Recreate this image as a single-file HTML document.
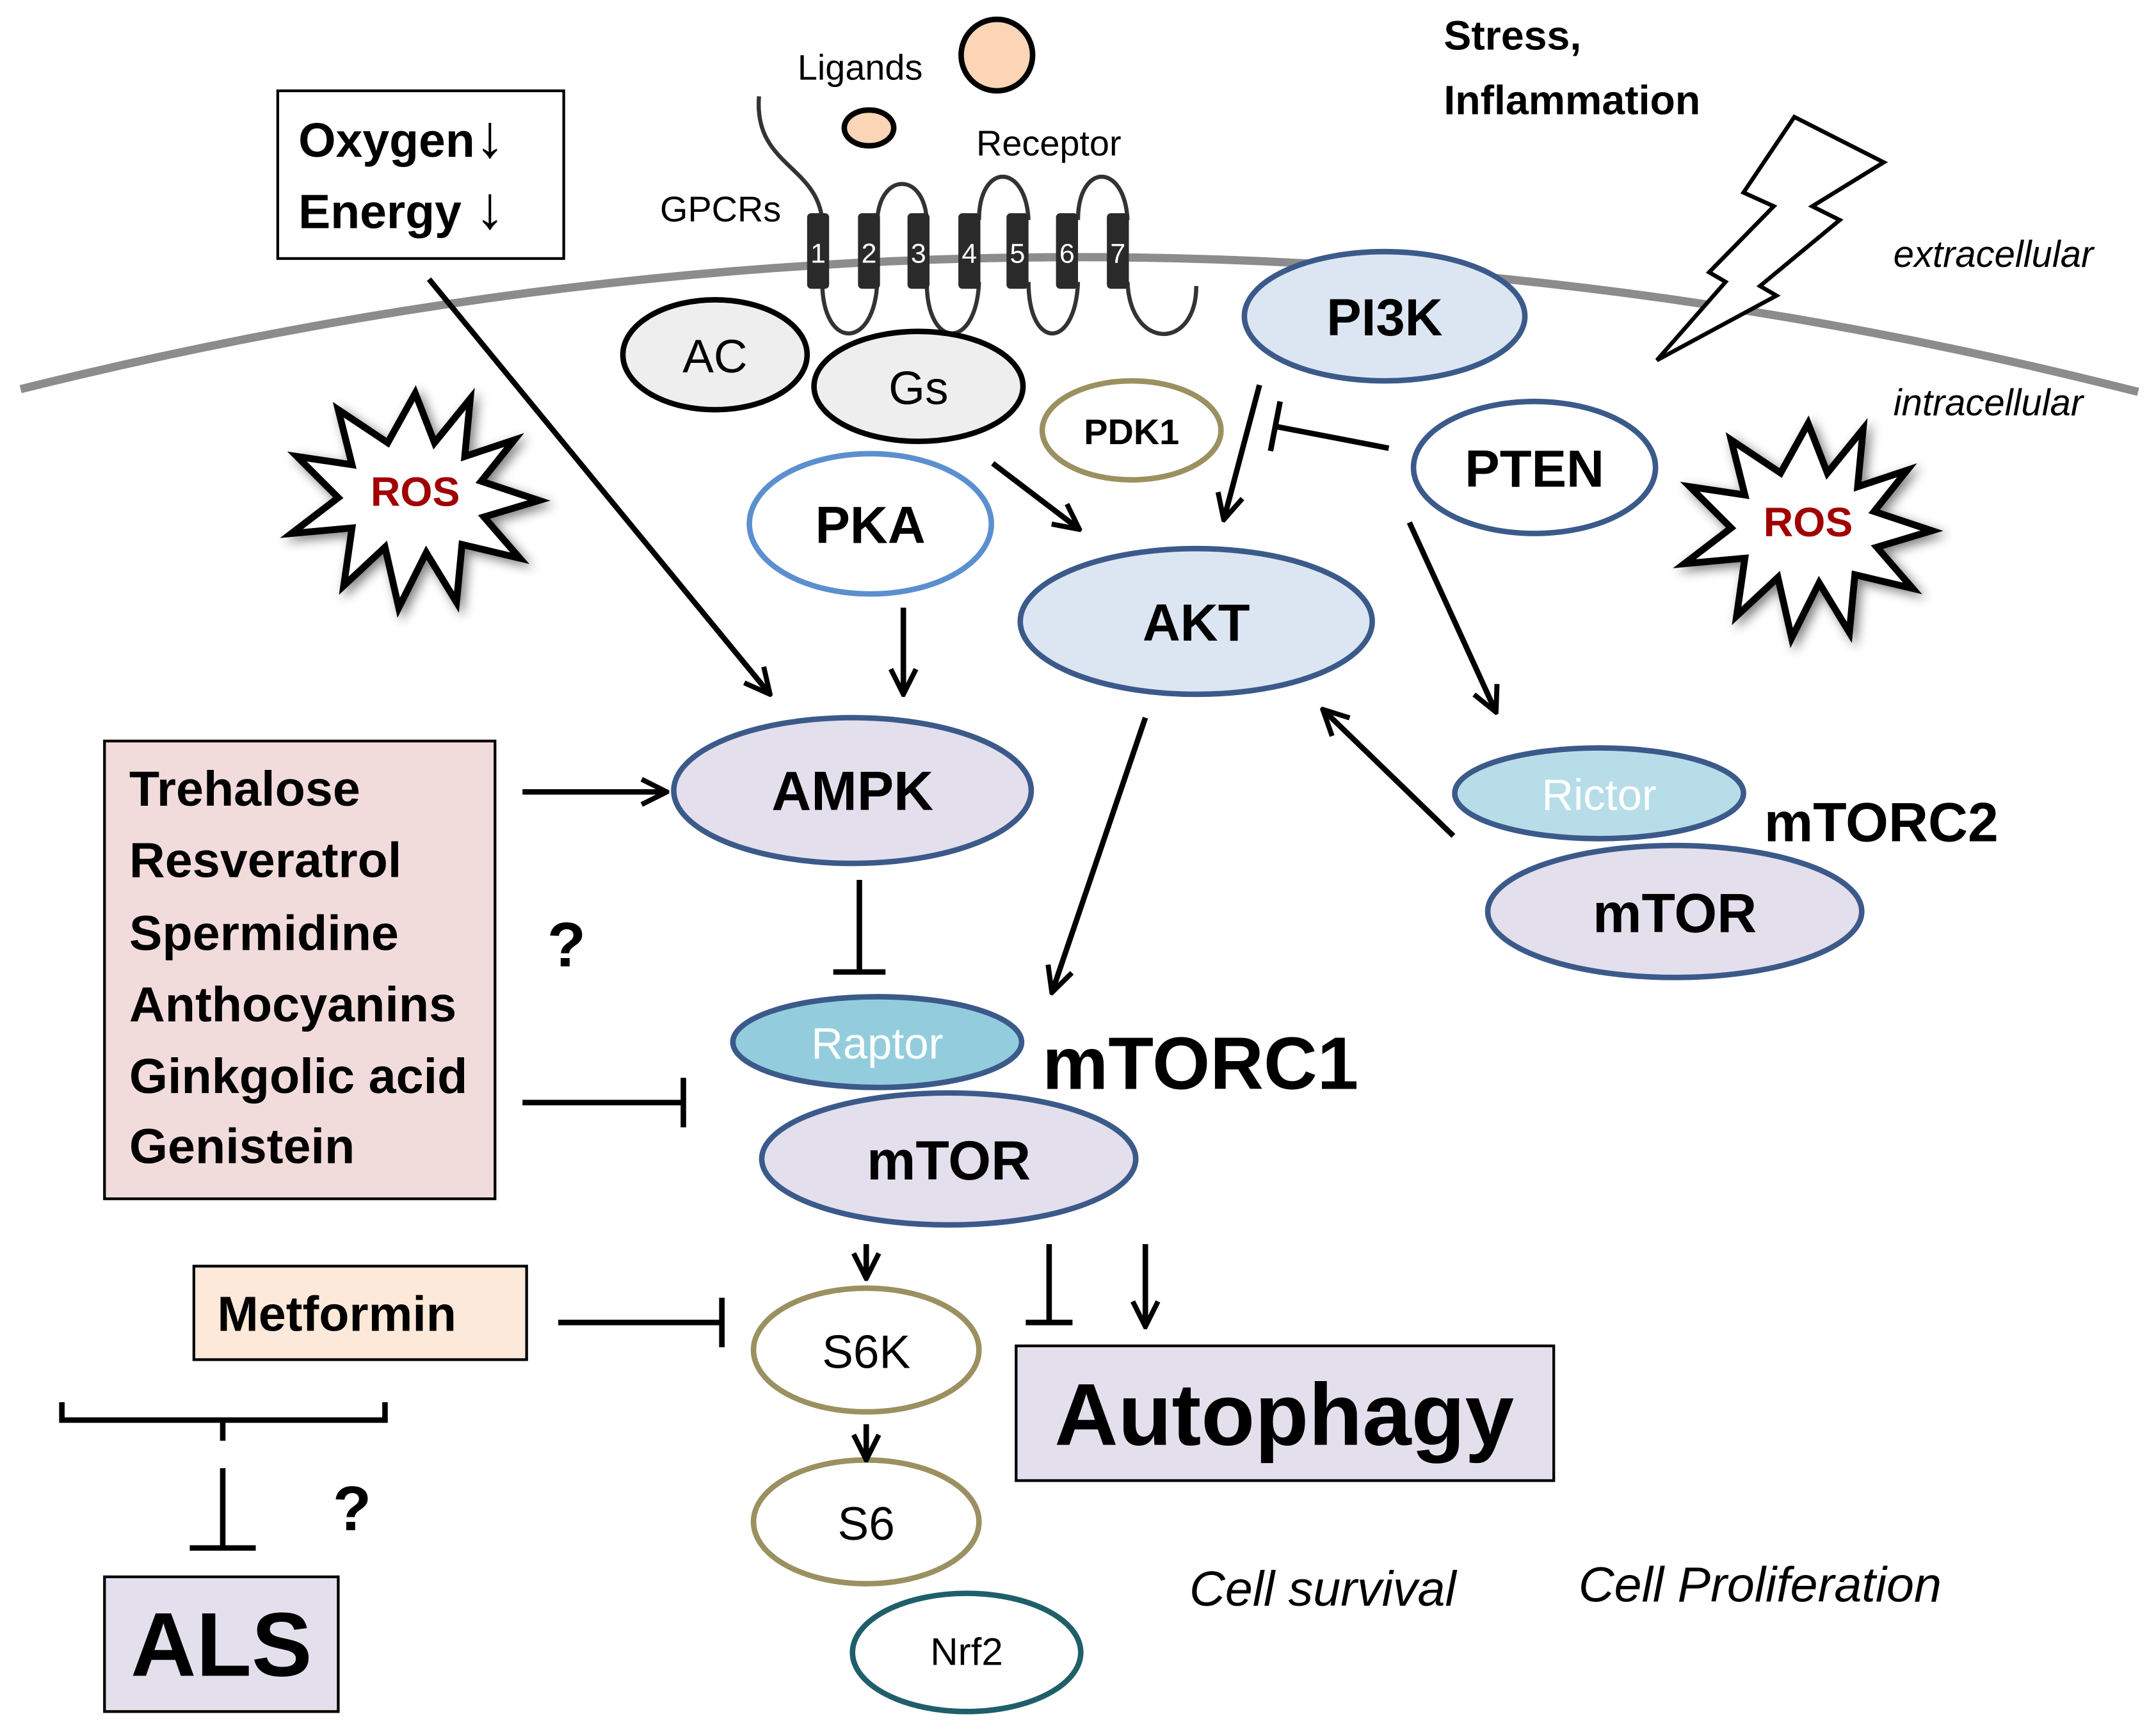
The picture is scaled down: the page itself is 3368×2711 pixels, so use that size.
<!DOCTYPE html>
<html><head><meta charset="utf-8"><style>
html,body{margin:0;padding:0;background:#fff}
svg{display:block}
text{font-family:"Liberation Sans","DejaVu Sans",sans-serif}
</style></head><body>
<svg width="3368" height="2711" viewBox="0 0 1568 1262" xmlns="http://www.w3.org/2000/svg">
<defs>
<marker id="a" viewBox="0 0 12 12" refX="11" refY="6" markerWidth="22" markerHeight="22" markerUnits="userSpaceOnUse" orient="auto">
<path d="M1,1 L11,6 L1,11" fill="none" stroke="#000" stroke-width="2"/>
</marker>
<filter id="sh" x="-30%" y="-30%" width="160%" height="160%"><feGaussianBlur in="SourceAlpha" stdDeviation="4"/><feOffset dx="3" dy="3"/><feComponentTransfer><feFuncA type="linear" slope="0.5"/></feComponentTransfer><feMerge><feMergeNode/><feMergeNode in="SourceGraphic"/></feMerge></filter>
</defs>
<rect width="1568" height="1262" fill="#fff"/>
<path d="M15,283 Q790,90 1555,285" fill="none" stroke="#8c8c8c" stroke-width="6"/>
<polygon points="1305,85 1370,118 1318,150 1338,160 1280,208 1292,215 1205,262 1255,205 1243,198 1290,150 1268,140" fill="#fff" stroke="#000" stroke-width="3"/>
<text x="1050" y="36" font-size="30" font-weight="bold">Stress,</text>
<text x="1050" y="83" font-size="30" font-weight="bold">Inflammation</text>
<text x="1377" y="194" font-size="27" font-style="italic">extracellular</text>
<text x="1377" y="302" font-size="27" font-style="italic">intracellular</text>
<rect x="202" y="66" width="208" height="122" fill="#fff" stroke="#000" stroke-width="2"/>
<text x="217" y="114" font-size="35" font-weight="bold">Oxygen<tspan font-size="44">↓</tspan></text>
<text x="217" y="166" font-size="35" font-weight="bold">Energy <tspan font-size="44">↓</tspan></text>
<text x="580" y="58" font-size="26">Ligands</text>
<circle cx="725" cy="40" r="26" fill="#fbd5b5" stroke="#000" stroke-width="4"/>
<ellipse cx="632" cy="93" rx="18" ry="13" fill="#fbd5b5" stroke="#000" stroke-width="4"/>
<text x="710" y="113" font-size="26">Receptor</text>
<text x="480" y="161" font-size="26">GPCRs</text>
<path d="M552,70 C548,120 594,120 598,160 M598,205 C598,255 636,255 638,205 M638,160 C640,125 672,125 674,160 M674,205 C674,255 710,255 712,205 M712,160 C712,118 746,118 748,160 M748,205 C748,255 782,255 784,205 M784,160 C784,118 818,118 820,160 M820,205 C822,255 870,255 870,208" fill="none" stroke="#333" stroke-width="3"/>
<g fill="#2a2a2a">
<rect x="587" y="155" width="16" height="55" rx="3"/><rect x="624" y="155" width="16" height="55" rx="3"/><rect x="660" y="155" width="16" height="55" rx="3"/><rect x="697" y="155" width="16" height="55" rx="3"/><rect x="732" y="155" width="16" height="55" rx="3"/><rect x="768" y="155" width="16" height="55" rx="3"/><rect x="805" y="155" width="16" height="55" rx="3"/>
</g>
<g fill="#fff" font-size="20" text-anchor="middle">
<text x="595" y="191">1</text><text x="632" y="191">2</text><text x="668" y="191">3</text><text x="705" y="191">4</text><text x="740" y="191">5</text><text x="776" y="191">6</text><text x="813" y="191">7</text>
</g>
<ellipse cx="520" cy="258" rx="67" ry="40" fill="#eee" stroke="#000" stroke-width="4"/>
<text x="520" y="271" font-size="34" text-anchor="middle">AC</text>
<ellipse cx="668" cy="281" rx="76" ry="40" fill="#eee" stroke="#000" stroke-width="4"/>
<text x="668" y="294" font-size="34" text-anchor="middle">Gs</text>
<ellipse cx="823" cy="313" rx="65" ry="36" fill="#fff" stroke="#9b9060" stroke-width="4"/>
<text x="823" y="323" font-size="26" font-weight="bold" text-anchor="middle">PDK1</text>
<ellipse cx="1007" cy="230" rx="102" ry="47" fill="#dce6f2" stroke="#3b5a8a" stroke-width="4"/>
<text x="1007" y="244" font-size="38" font-weight="bold" text-anchor="middle">PI3K</text>
<ellipse cx="1116" cy="340" rx="88" ry="48" fill="#fff" stroke="#3b5a8a" stroke-width="4"/>
<text x="1116" y="354" font-size="38" font-weight="bold" text-anchor="middle">PTEN</text>
<ellipse cx="633" cy="381" rx="88" ry="51" fill="#fff" stroke="#5b8fd0" stroke-width="4"/>
<text x="633" y="395" font-size="38" font-weight="bold" text-anchor="middle">PKA</text>
<ellipse cx="870" cy="452" rx="128" ry="53" fill="#dce6f2" stroke="#3b5a8a" stroke-width="4"/>
<text x="870" y="466" font-size="38" font-weight="bold" text-anchor="middle">AKT</text>
<ellipse cx="620" cy="575" rx="130" ry="53" fill="#e4dfec" stroke="#3b5a8a" stroke-width="4"/>
<text x="620" y="589" font-size="40" font-weight="bold" text-anchor="middle">AMPK</text>
<ellipse cx="1218" cy="663" rx="136" ry="48" fill="#e4dfec" stroke="#3b5a8a" stroke-width="4"/>
<text x="1218" y="678" font-size="40" font-weight="bold" text-anchor="middle">mTOR</text>
<ellipse cx="1163" cy="577" rx="105" ry="33" fill="#b7dde8" stroke="#3b5a8a" stroke-width="4"/>
<text x="1163" y="589" font-size="32" fill="#fff" text-anchor="middle">Rictor</text>
<text x="1283" y="612" font-size="40" font-weight="bold">mTORC2</text>
<ellipse cx="690" cy="843" rx="136" ry="48" fill="#e4dfec" stroke="#3b5a8a" stroke-width="4"/>
<text x="690" y="858" font-size="40" font-weight="bold" text-anchor="middle">mTOR</text>
<ellipse cx="638" cy="758" rx="105" ry="33" fill="#93cddd" stroke="#3b5a8a" stroke-width="4"/>
<text x="638" y="770" font-size="32" fill="#fff" text-anchor="middle">Raptor</text>
<text x="758" y="792" font-size="54" font-weight="bold">mTORC1</text>
<ellipse cx="630" cy="982" rx="82" ry="45" fill="#fff" stroke="#9b9060" stroke-width="4"/>
<text x="630" y="995" font-size="34" text-anchor="middle">S6K</text>
<ellipse cx="630" cy="1107" rx="82" ry="45" fill="#fff" stroke="#9b9060" stroke-width="4"/>
<text x="630" y="1120" font-size="34" text-anchor="middle">S6</text>
<ellipse cx="703" cy="1202" rx="83" ry="43" fill="#fff" stroke="#1f5f6a" stroke-width="4"/>
<text x="703" y="1211" font-size="28" text-anchor="middle">Nrf2</text>
<rect x="739" y="979" width="391" height="98" fill="#e4dfec" stroke="#000" stroke-width="2"/>
<text x="934" y="1051" font-size="64" font-weight="bold" text-anchor="middle">Autophagy</text>
<rect x="76" y="1147" width="170" height="98" fill="#e4dfec" stroke="#000" stroke-width="2"/>
<text x="161" y="1219" font-size="66" font-weight="bold" text-anchor="middle">ALS</text>
<rect x="76" y="539" width="284" height="333" fill="#f2dcdb" stroke="#000" stroke-width="2"/>
<g font-size="36" font-weight="bold">
<text x="94" y="586">Trehalose</text><text x="94" y="638">Resveratrol</text><text x="94" y="691">Spermidine</text><text x="94" y="743">Anthocyanins</text><text x="94" y="795">Ginkgolic acid</text><text x="94" y="846">Genistein</text>
</g>
<rect x="141" y="921" width="242" height="68" fill="#fde9d9" stroke="#000" stroke-width="2"/>
<text x="158" y="968" font-size="36" font-weight="bold">Metformin</text>
<text x="412" y="703" font-size="46" font-weight="bold" text-anchor="middle">?</text>
<text x="256" y="1113" font-size="46" font-weight="bold" text-anchor="middle">?</text>
<text x="865" y="1168" font-size="36" font-style="italic">Cell survival</text>
<text x="1148" y="1165" font-size="36" font-style="italic">Cell Proliferation</text>
<g transform="translate(302,358)">
<polygon filter="url(#sh)" points="0,-72 14,-36 40,-68 36,-26 72,-38 48,-8 90,6 50,18 76,48 34,38 30,80 8,44 -12,84 -22,40 -52,68 -46,26 -90,30 -56,4 -86,-26 -46,-20 -56,-60 -20,-36" fill="#fff" stroke="#000" stroke-width="5"/>
<text x="0" y="10" font-size="30" font-weight="bold" fill="#a00000" text-anchor="middle">ROS</text>
</g>
<g transform="translate(1315,380)">
<polygon filter="url(#sh)" points="0,-72 14,-36 40,-68 36,-26 72,-38 48,-8 90,6 50,18 76,48 34,38 30,80 8,44 -12,84 -22,40 -52,68 -46,26 -90,30 -56,4 -86,-26 -46,-20 -56,-60 -20,-36" fill="#fff" stroke="#000" stroke-width="5"/>
<text x="0" y="10" font-size="30" font-weight="bold" fill="#a00000" text-anchor="middle">ROS</text>
</g>
<g stroke="#000" stroke-width="4" fill="none">
<line x1="312" y1="203" x2="560" y2="505" marker-end="url(#a)"/>
<line x1="657" y1="442" x2="657" y2="505" marker-end="url(#a)"/>
<line x1="722" y1="337" x2="785" y2="385" marker-end="url(#a)"/>
<line x1="916" y1="280" x2="890" y2="378" marker-end="url(#a)"/>
<line x1="1010" y1="326" x2="927" y2="310"/>
<line x1="931" y1="292" x2="924" y2="328"/>
<line x1="1025" y1="380" x2="1088" y2="518" marker-end="url(#a)"/>
<line x1="1057" y1="608" x2="962" y2="516" marker-end="url(#a)"/>
<line x1="833" y1="522" x2="765" y2="722" marker-end="url(#a)"/>
<line x1="380" y1="576" x2="485" y2="576" marker-end="url(#a)"/>
<line x1="380" y1="802" x2="497" y2="802"/>
<line x1="497" y1="784" x2="497" y2="820"/>
<line x1="625" y1="640" x2="625" y2="707"/>
<line x1="606" y1="707" x2="644" y2="707"/>
<line x1="406" y1="962" x2="525" y2="962"/>
<line x1="525" y1="944" x2="525" y2="980"/>
<line x1="630" y1="905" x2="630" y2="930" marker-end="url(#a)"/>
<line x1="630" y1="1036" x2="630" y2="1062" marker-end="url(#a)"/>
<line x1="763" y1="905" x2="763" y2="962"/>
<line x1="746" y1="962" x2="780" y2="962"/>
<line x1="833" y1="905" x2="833" y2="965" marker-end="url(#a)"/>
<path d="M45,1020 L45,1033 L280,1033 L280,1020 M162,1033 L162,1048"/>
<line x1="162" y1="1068" x2="162" y2="1126"/>
<line x1="138" y1="1126" x2="186" y2="1126"/>
</g>
</svg>
</body></html>
